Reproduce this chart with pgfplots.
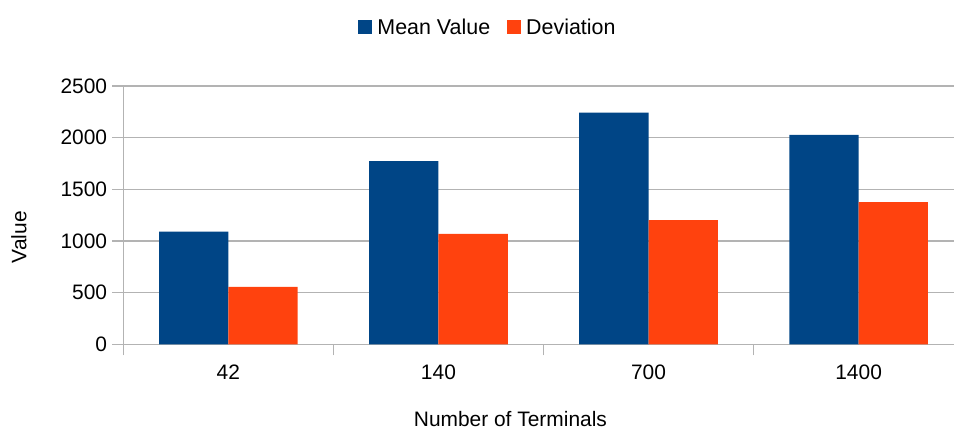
\documentclass[border=0pt]{standalone}
\usepackage{fontspec}
\setmainfont{Liberation Sans}
\usepackage{pgfplots}
\pgfplotsset{compat=1.18}
\definecolor{meanblue}{HTML}{004586}
\definecolor{devorange}{HTML}{FF420E}
\definecolor{gridgray}{HTML}{B3B3B3}
\begin{document}
\begin{tikzpicture}
\path[use as bounding box] (0,0) rectangle (954bp,430bp);
\begin{axis}[
  at={(123.3bp,85.7bp)}, anchor=south west,
  scale only axis, width=830.7bp, height=258.3bp,
  ybar=0pt, bar width=0.33,
  xmin=-0.5, xmax=3.454, ymin=0, ymax=2500,
  ytick={0,500,1000,1500,2000,2500},
  xtick={-0.5,0.5,1.5,2.5}, xticklabels={},
  extra x ticks={0,1,2,3}, extra x tick labels={42,140,700,1400},
  extra x tick style={major tick length=0pt, grid=none},
  ymajorgrids, grid style={gridgray, line width=1.2bp},
  axis x line*=bottom, axis y line*=left,
  axis line style={gridgray, line width=1.2bp, -},
  tick style={gridgray, line width=1.2bp},
  tick align=outside, major tick length=11bp,
  /pgf/number format/assume math mode=true,
  /pgf/number format/1000 sep={},
  tick label style={font=\fontsize{21}{25}\selectfont, black},
  yticklabel style={anchor=east, inner sep=0pt, xshift=-5bp},
  xticklabel style={anchor=north, inner sep=0pt, yshift=-20bp},
  label style={font=\fontsize{21}{25}\selectfont, black},
  xlabel={Number of Terminals}, ylabel={Value},
  xlabel style={at={(axis description cs:0.466,-0.289)}, anchor=center},
  ylabel style={at={(axis description cs:-0.1256,0.415)}, anchor=center},
  legend style={at={(0.4378,1.228)}, anchor=center, draw=none, fill=none,
    legend columns=-1, font=\fontsize{21.5}{25}\selectfont,
    /tikz/every odd column/.append style={column sep=5bp},
    /tikz/every even column/.append style={column sep=17bp},
    nodes={inner sep=0pt}},
  legend image code/.code={\fill[#1] (0bp,-7bp) rectangle (14bp,7bp);},
]
\addplot[fill=meanblue, draw=none] coordinates {(0,1090) (1,1774) (2,2242) (3,2026)};
\addplot[fill=devorange, draw=none] coordinates {(0,555) (1,1068) (2,1203) (3,1375)};
\legend{Mean Value, Deviation}
\end{axis}
\end{tikzpicture}
\end{document}
